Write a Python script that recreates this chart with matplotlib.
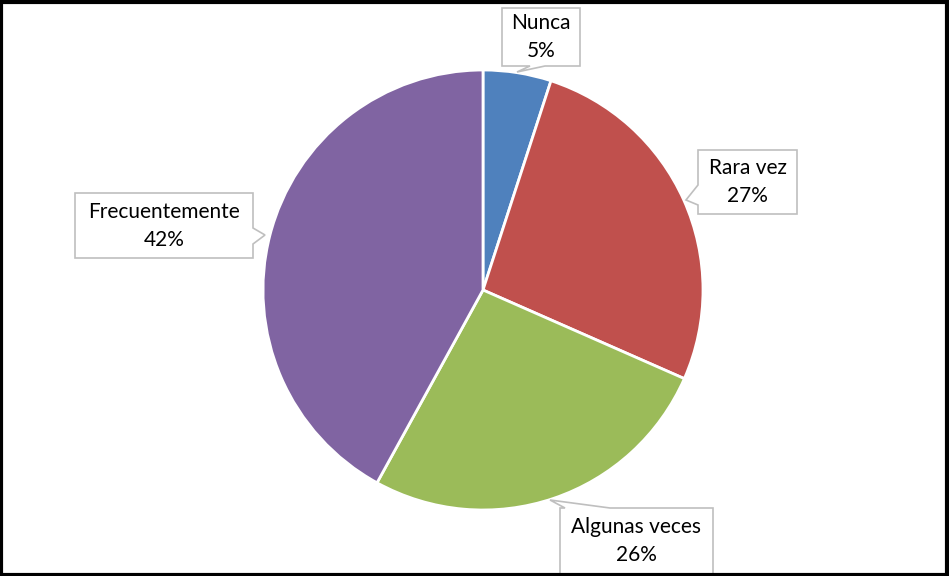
import matplotlib.pyplot as plt
from matplotlib.patches import Polygon, Rectangle

# Données du graphique (pourcentages)
categories = ['Nunca', 'Rara vez', 'Algunas veces', 'Frecuentemente']
valeurs = [5.0, 26.6, 26.4, 42.0]
couleurs = ['#4F81BD', '#C0504D', '#9BBB59', '#8064A2']

W, H = 949, 576
fig = plt.figure(figsize=(W / 100, H / 100), dpi=100)
ax = fig.add_axes([0, 0, 1, 1])

centre = (483, H - 290)
rayon = 220
ax.pie(valeurs, colors=couleurs, startangle=90, counterclock=False,
       center=centre, radius=rayon, frame=True,
       wedgeprops=dict(edgecolor='white', linewidth=2))
ax.set_xlim(0, W)
ax.set_ylim(0, H)
ax.set_aspect('equal')
ax.axis('off')


def bulle(x0, y0, x1, y1, pointe, cote, a, b):
    """Boîte d'étiquette avec une pointe vers la part (coordonnées pixels, y vers le bas)."""
    coins = {'bas': [(x0, y0), (x1, y0), (x1, y1), (b, y1), pointe, (a, y1), (x0, y1)],
             'gauche': [(x0, y0), (x1, y0), (x1, y1), (x0, y1), (x0, b), pointe, (x0, a)],
             'droite': [(x0, y0), (x1, y0), (x1, a), pointe, (x1, b), (x1, y1), (x0, y1)],
             'haut': [(x0, y0), (a, y0), pointe, (b, y0), (x1, y0), (x1, y1), (x0, y1)]}[cote]
    pts = [(x, H - y) for x, y in coins]
    ax.add_patch(Polygon(pts, closed=True, facecolor='white', edgecolor='#BFBFBF',
                         linewidth=1.2, zorder=3))


# Positions des étiquettes (pixels), dans l'ordre des catégories
boites = [
    (502, 8, 580, 66, (517, 72), 'bas', 530, 545),
    (698, 150, 797, 214, (686, 200), 'gauche', 185, 205),
    (560, 508, 713, 590, (550, 500), 'haut', 565, 610),
    (75, 193, 253, 258, (265, 235), 'droite', 228, 244),
]
for (x0, y0, x1, y1, pointe, cote, a, b), nom, v in zip(boites, categories, valeurs):
    bulle(x0, y0, x1, y1, pointe, cote, a, b)
    yc = (y0 + y1) / 2 if y1 < H else (y0 + 574) / 2
    ax.text((x0 + x1) / 2, H - yc, f'{nom}\n{v:.0f}%',
            ha='center', va='center', fontsize=15, family='Lato',
            linespacing=1.5, color='black', zorder=4)

ax.add_patch(Rectangle((1.5, 1.5), W - 3, H - 3, fill=False, edgecolor='black',
                       linewidth=3, zorder=5))

fig.savefig('out.png', dpi=100)
